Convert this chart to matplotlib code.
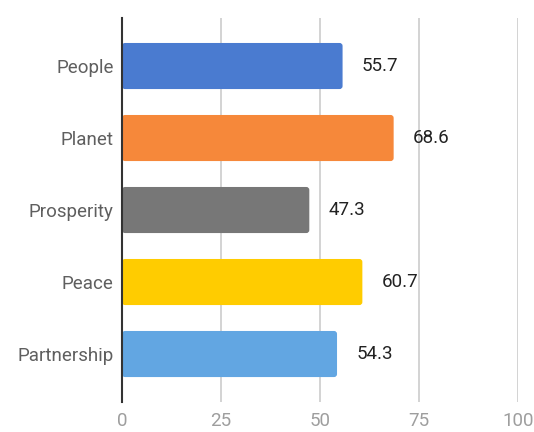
import matplotlib.pyplot as plt
from matplotlib.patches import FancyBboxPatch

categories = ['People', 'Planet', 'Prosperity', 'Peace', 'Partnership']
values = [55.7, 68.6, 47.3, 60.7, 54.3]
colors = ['#4a7bd0', '#f6883a', '#777777', '#ffcc00', '#62a6e2']
xticks = [0, 25, 50, 75, 100]

plt.rcParams['font.family'] = ['Roboto', 'DejaVu Sans']

fig = plt.figure(figsize=(5.34, 4.32), dpi=100)
ax = fig.add_axes([0.2285, 0.0694, 0.7415, 0.8889])

ypos = list(range(len(categories)))
bars = ax.barh(ypos, values, height=0.64, color=colors)

# swap the plain rectangles for slightly rounded ones
px_x = 0.7415 * 534 / 100.0
px_y = 0.8889 * 432 / (len(categories) + 1 / 3)
for b, c in zip(bars, colors):
    b.set_visible(False)
    p = FancyBboxPatch((b.get_x(), b.get_y()), b.get_width(), b.get_height(),
                       boxstyle='round,pad=0,rounding_size=%f' % (3 / px_x),
                       mutation_aspect=px_x / px_y,
                       facecolor=c, edgecolor='none', zorder=2)
    ax.add_patch(p)

for y, v in zip(ypos, values):
    ax.annotate(f'{v}', (v, y), xytext=(14, 0), textcoords='offset points',
                va='center', ha='left', fontsize=13.5, color='#222222')

ax.set_xlim(0, 100)
ax.set_ylim(len(categories) - 1 + 2 / 3, -2 / 3)
ax.set_xticks(xticks)
ax.set_yticks(ypos)
ax.set_yticklabels(categories)
ax.tick_params(axis='x', length=0, pad=7, labelsize=13.5, labelcolor='#9e9e9e')
ax.tick_params(axis='y', length=0, pad=6, labelsize=13.5, labelcolor='#5f5f5f')

ax.grid(axis='x', color='#cccccc', linewidth=1.2, zorder=0)
ax.set_axisbelow(True)
for s in ['top', 'right', 'bottom']:
    ax.spines[s].set_visible(False)
ax.spines['left'].set_color('#333333')
ax.spines['left'].set_linewidth(1.5)
ax.spines['left'].set_zorder(3)

fig.savefig('out.png', dpi=100)
